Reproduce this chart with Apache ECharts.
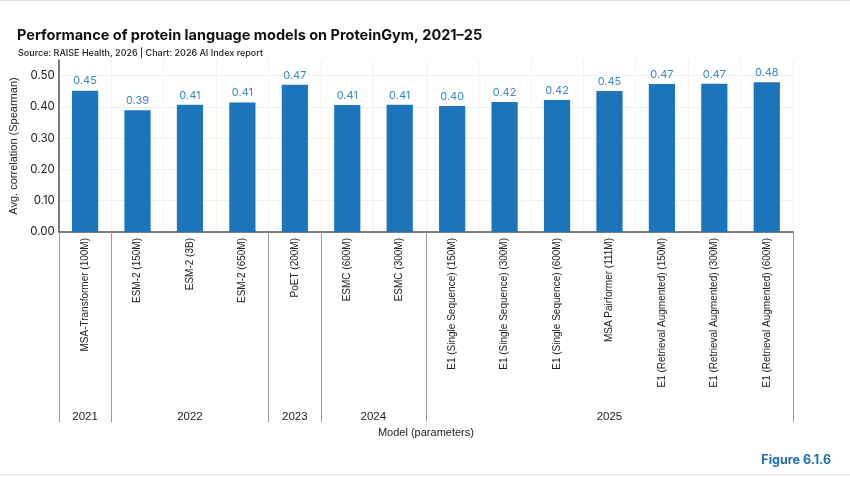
<!DOCTYPE html>
<html>
<head>
<meta charset="utf-8">
<script src="https://cdn.jsdelivr.net/npm/echarts@6/dist/echarts.min.js"></script>
<style>
  html, body { margin: 0; padding: 0; background: #fff; }
  #chart { width: 850px; height: 477px; }
</style>
</head>
<body>
<div id="chart"></div>
<script>
// models, one bar each
var models = [
  'MSA-Transformer (100M)', 'ESM-2 (150M)', 'ESM-2 (3B)', 'ESM-2 (650M)', 'PoET (200M)',
  'ESMC (600M)', 'ESMC (300M)', 'E1 (Single Sequence) (150M)', 'E1 (Single Sequence) (300M)',
  'E1 (Single Sequence) (600M)', 'MSA Pairformer (111M)', 'E1 (Retrieval Augmented) (150M)',
  'E1 (Retrieval Augmented) (300M)', 'E1 (Retrieval Augmented) (600M)'
];
var years = ['2021', '2022', '2022', '2022', '2023', '2024', '2024',
  '2025', '2025', '2025', '2025', '2025', '2025', '2025'];
var scores = [0.452, 0.389, 0.407, 0.414, 0.471, 0.406, 0.407,
  0.403, 0.416, 0.422, 0.451, 0.473, 0.474, 0.479];
var yTicks = [0, 0.1, 0.2, 0.3, 0.4, 0.5];

// group boundaries and label spots for the year row
var groupStarts = [];
var labelAt = {};
(function () {
  var s = 0;
  for (var i = 1; i <= years.length; i++) {
    if (i === years.length || years[i] !== years[s]) {
      groupStarts.push(s);
      var mid = (s + i - 1) / 2;
      labelAt[Math.floor(mid)] = { year: years[s], half: mid % 1 !== 0 };
      s = i;
    }
  }
})();

var font = '"Liberation Sans", Arial, sans-serif';
var chart = echarts.init(document.getElementById('chart'));

chart.setOption({
  backgroundColor: '#fff',
  animation: false,
  title: [
    { text: 'Performance of protein language models on ProteinGym, 2021\u201325', left: 12, top: 23,
      textStyle: { fontFamily: 'Inter', fontWeight: 'bold', fontSize: 14.5, color: '#111' } },
    { text: 'Source: RAISE Health, 2026 | Chart: 2026 AI Index report', left: 13, top: 44,
      textStyle: { fontFamily: 'Inter', fontWeight: 500, fontSize: 9, color: '#222' } },
    { text: 'Figure 6.1.6', right: 14, top: 449,
      textStyle: { fontFamily: 'Inter', fontWeight: 'bold', fontSize: 12.5, color: '#1f6db3' } }
  ],
  grid: { left: 58, right: 57, top: 60, bottom: 245 },
  xAxis: [
    {
      type: 'category',
      data: models,
      position: 'bottom',
      axisLine: { lineStyle: { color: '#555', width: 1.5 } },
      axisTick: { show: false },
      splitLine: { show: true, lineStyle: { color: '#f1f1f1' } },
      axisLabel: { rotate: 90, interval: 0, margin: 6, fontFamily: font, fontSize: 10, color: '#222' }
    },
    {
      type: 'category',
      data: years,
      position: 'bottom',
      offset: 0,
      name: 'Model (parameters)',
      nameLocation: 'middle',
      nameGap: 195,
      nameTextStyle: { fontFamily: font, fontSize: 11, color: '#222' },
      axisLine: { show: false },
      axisTick: {
        show: true, length: 190,
        interval: function (idx) { return groupStarts.indexOf(idx) >= 0; },
        lineStyle: { color: '#999', width: 1 }
      },
      splitLine: { show: false },
      axisLabel: {
        margin: 179,
        fontFamily: font, fontSize: 11.5, color: '#222',
        interval: function (idx) { return labelAt[idx] !== undefined; },
        formatter: function (v, idx) {
          var l = labelAt[idx];
          if (!l) return '';
          return l.half ? '{h|' + l.year + '}' : l.year;
        },
        rich: { h: { padding: [0, 0, 0, 52], fontFamily: font, fontSize: 11.5, color: '#222' } }
      }
    }
  ],
  yAxis: {
    type: 'value',
    min: 0,
    max: 0.55,
    interval: 0.1,
    name: 'Avg. correlation (Spearman)',
    nameLocation: 'middle',
    nameGap: 37,
    nameTextStyle: { fontFamily: font, fontSize: 11, color: '#222' },
    axisLine: { show: true, lineStyle: { color: '#555', width: 1.5 } },
    axisTick: { show: false },
    splitLine: { show: true, showMaxLine: false, lineStyle: { color: '#f1f1f1' } },
    axisLabel: {
      margin: 4, fontFamily: 'Inter', fontSize: 11.5, color: '#222', showMaxLabel: false,
      formatter: function (v) { return yTicks.indexOf(Math.round(v * 10) / 10) >= 0 ? v.toFixed(2) : ''; }
    }
  },
  series: [{
    type: 'bar',
    xAxisIndex: 0,
    data: scores,
    barWidth: '50%',
    itemStyle: { color: '#1c75bb' },
    label: {
      show: true, position: 'top', distance: 4,
      fontFamily: 'Inter', fontSize: 11, color: '#3a88cc',
      formatter: function (p) { return p.value.toFixed(2); }
    }
  }],
  graphic: [
    { type: 'line', shape: { x1: 0, y1: 0.5, x2: 850, y2: 0.5 }, style: { stroke: '#e4e4e4' } },
    { type: 'line', shape: { x1: 0, y1: 474.5, x2: 850, y2: 474.5 }, style: { stroke: '#e4e4e4' } }
  ]
});
</script>
</body>
</html>
